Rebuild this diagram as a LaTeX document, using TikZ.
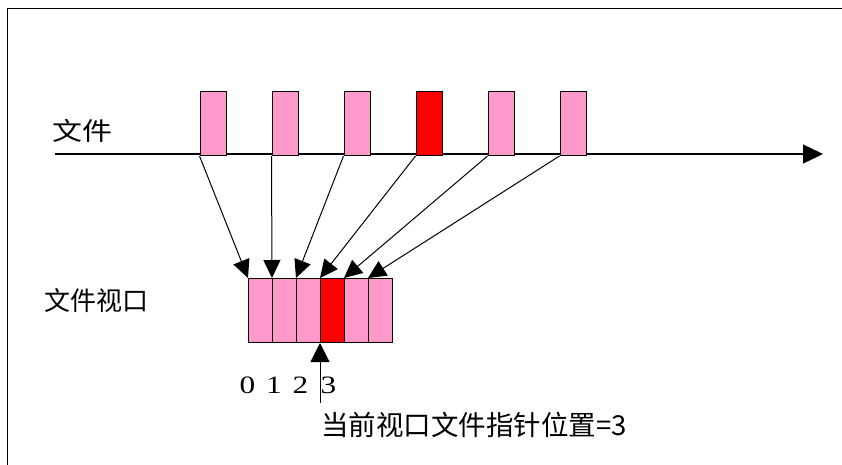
\documentclass[tikz,border=0pt]{standalone}
\usepackage{fontspec}
\setmainfont{Liberation Serif}
\newfontfamily\cjk{Noto Sans CJK SC}
\usetikzlibrary{arrows.meta}
\definecolor{pinkfill}{HTML}{FF99CC}
\definecolor{redfill}{HTML}{FF0000}
\begin{document}
\begin{tikzpicture}[x=1pt,y=-1pt,
  topbox/.style={draw=black,line width=1pt,minimum width=26pt,minimum height=64pt,inner sep=0pt,anchor=north west,fill=pinkfill},
  winbox/.style={draw=black,line width=1pt,minimum width=24pt,minimum height=64pt,inner sep=0pt,anchor=north west,fill=pinkfill},
  conn/.style={line width=1pt,-{Triangle[length=18pt,width=17pt]}},
  lbl/.style={inner sep=0pt,font=\cjk\fontsize{25}{25}\selectfont},
  digit/.style={inner sep=0pt,font=\fontsize{25}{25}\selectfont,xscale=1.25}]
\useasboundingbox (0,0) rectangle (842,464);
% frame
\draw[line width=1.2pt] (7.5,470) -- (7.5,8.5) -- (850,8.5);
% axis
\coordinate (axs) at (55,154);
\coordinate (axe) at (823,154);
\draw[line width=1.3pt,-{Triangle[length=20pt,width=19pt]}] (axs) -- (axe);
% top boxes
\node[topbox] (t1) at (199.5,91) {};
\node[topbox] (t2) at (271.5,91) {};
\node[topbox] (t3) at (343.5,91) {};
\node[topbox,fill=redfill] (t4) at (415.5,91) {};
\node[topbox] (t5) at (487.5,91) {};
\node[topbox] (t6) at (559.5,91) {};
% window boxes
\node[winbox] (w1) at (248,278) {};
\node[winbox] (w2) at (272,278) {};
\node[winbox] (w3) at (296,278) {};
\node[winbox,fill=redfill] (w4) at (320,278) {};
\node[winbox] (w5) at (344,278) {};
\node[winbox] (w6) at (368,278) {};
% connectors
\draw[conn] (t1.south west) -- (w1.north west);
\draw[conn] (t2.south west) -- (w2.north west);
\draw[conn] (t3.south west) -- (w3.north west);
\draw[conn] (t4.south west) -- (w4.north west);
\draw[conn] (t5.south west) -- (w5.north west);
\draw[conn] (t6.south west) -- (w6.north west);
% labels
\node[lbl,xscale=1.2] (lf) at (82,131) {文件};
\node[lbl,font=\cjk\fontsize{26}{26}\selectfont] (lw) at (96,300.5) {文件视口};
\node[digit] (d0) at (247.5,385.5) {0};
\node[digit] (d1) at (274,385.5) {1};
\node[digit] (d2) at (300.5,385.5) {2};
\node[digit] (d3) at (328.5,385.5) {3};
% pointer
\coordinate (pb) at (320,403);
\draw[line width=1pt,-{Triangle[length=19pt,width=19pt]}] (pb) -- (w4.south west);
\node[lbl,anchor=west,font=\cjk\fontsize{27.5}{27.5}\selectfont] (ptr) at (321,425) {当前视口文件指针位置=3};
\end{tikzpicture}
\end{document}
